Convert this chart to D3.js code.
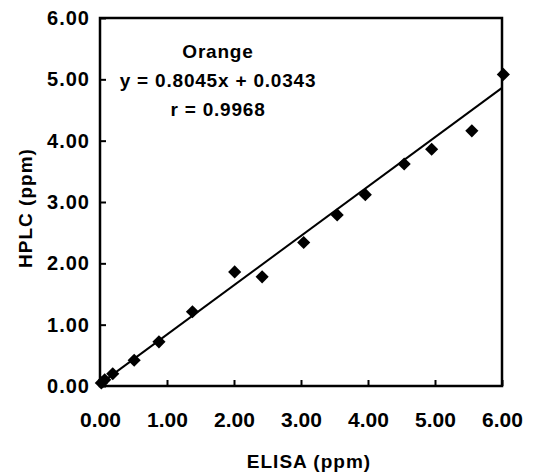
<!DOCTYPE html>
<html>
<head>
<meta charset="utf-8">
<script src="https://cdn.jsdelivr.net/npm/d3@7"></script>
<style>
  body { margin: 0; background: #fff; }
  text { font-family: "Liberation Sans", Arial, sans-serif; font-weight: bold; fill: #000; }
</style>
</head>
<body>
<div class="chart"></div>
<script>
// values
var elisa = [0.02, 0.07, 0.19, 0.51, 0.88, 1.38, 2.01, 2.42, 3.04, 3.54, 3.96, 4.54, 4.95, 5.55, 6.02];
var hplc  = [0.05, 0.10, 0.20, 0.42, 0.72, 1.21, 1.86, 1.78, 2.34, 2.79, 3.12, 3.62, 3.86, 4.16, 5.08];
var tickValues = [0, 1, 2, 3, 4, 5, 6];
var fitRange = [0, 6];
var slope = 0.8045, intercept = 0.0343;
var notes = ['Orange', 'y = 0.8045x + 0.0343', 'r = 0.9968'];

var width = 546, height = 475;
var margin = {top: 18, right: 44, bottom: 89, left: 100};

var svg = d3.select('.chart').append('svg')
  .attr('width', width)
  .attr('height', height);

var x = d3.scaleLinear().domain([0, 6]).range([margin.left, width - margin.right]);
var y = d3.scaleLinear().domain([0, 6]).range([height - margin.bottom, margin.top]);

// frame
svg.append('rect')
  .attr('x', x(0)).attr('y', y(6))
  .attr('width', x(6) - x(0)).attr('height', y(0) - y(6))
  .attr('fill', 'none').attr('stroke', '#000').attr('stroke-width', 2.5);

// axes with inward ticks
var xAxis = svg.append('g')
  .attr('transform', 'translate(0,' + y(0) + ')')
  .call(d3.axisBottom(x).tickValues(tickValues).tickSizeInner(-6).tickSizeOuter(0)
    .tickFormat(d3.format('.2f')).tickPadding(26));
xAxis.select('.domain').remove();
xAxis.selectAll('line').attr('stroke-width', 2);
xAxis.selectAll('text').style('font-size', '21px').attr('fill', '#000');

var yAxis = svg.append('g')
  .attr('transform', 'translate(' + x(0) + ',0)')
  .call(d3.axisLeft(y).tickValues(tickValues).tickSizeInner(-6).tickSizeOuter(0)
    .tickFormat(d3.format('.2f')).tickPadding(10));
yAxis.select('.domain').remove();
yAxis.selectAll('line').attr('stroke-width', 2);
yAxis.selectAll('text').style('font-size', '20px').style('letter-spacing', '1px').attr('fill', '#000');

// regression line
var line = d3.line()
  .x(function(d) { return x(d); })
  .y(function(d) { return y(slope * d + intercept); });
svg.append('path')
  .datum(fitRange)
  .attr('d', line)
  .attr('fill', 'none')
  .attr('stroke', '#000')
  .attr('stroke-width', 2);

// points
var points = elisa.map(function(v, i) { return {x: v, y: hplc[i]}; });
svg.selectAll('.pt').data(points).enter().append('path')
  .attr('class', 'pt')
  .attr('d', d3.symbol().type(d3.symbolDiamond2).size(110))
  .attr('transform', function(d) { return 'translate(' + x(d.x) + ',' + y(d.y) + ')'; })
  .attr('fill', '#000');

// annotation
svg.selectAll('.note').data(notes).enter().append('text')
  .attr('class', 'note')
  .attr('x', 218)
  .attr('y', function(d, i) { return 58 + i * 29; })
  .attr('text-anchor', 'middle')
  .style('font-size', '19px')
  .style('letter-spacing', '0.8px')
  .text(function(d) { return d; });

// axis titles
svg.append('text')
  .attr('x', 309)
  .attr('y', 468)
  .attr('text-anchor', 'middle')
  .style('font-size', '19px')
  .style('letter-spacing', '1px')
  .text('ELISA (ppm)');

svg.append('text')
  .attr('transform', 'translate(32,208) rotate(-90)')
  .attr('text-anchor', 'middle')
  .style('font-size', '19px')
  .style('letter-spacing', '1px')
  .text('HPLC (ppm)');
</script>
</body>
</html>
